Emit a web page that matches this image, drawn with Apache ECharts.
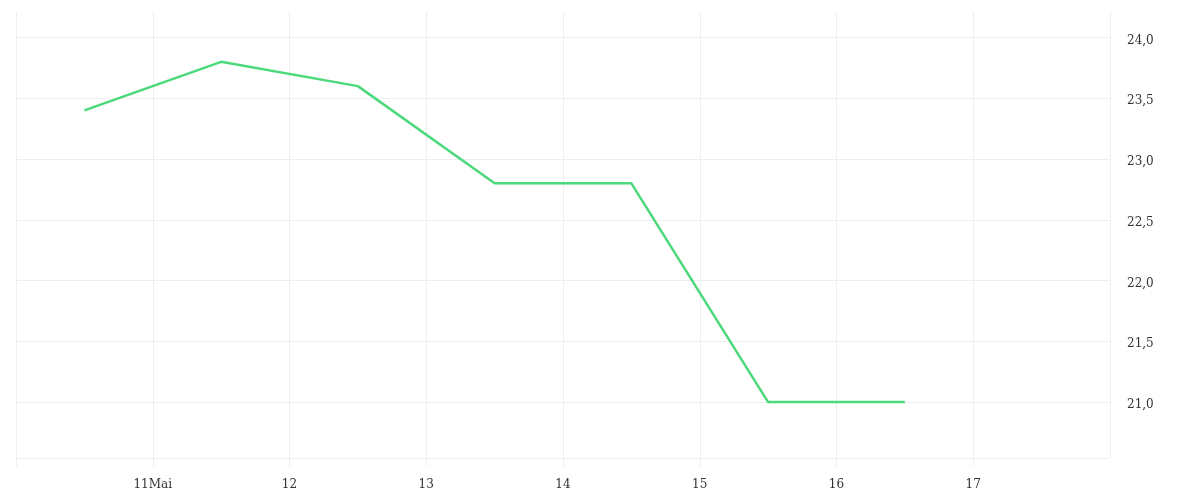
<!DOCTYPE html>
<html lang="de">
<head>
    <meta charset="UTF-8">
    <title>Chart</title>
    <style>
        *{
            margin: 0;
            padding: 0;
        }
        #chart{
            width: 1200px;
            height: 500px;
            background: #FFFFFF;
        }
    </style>
</head>
<body>
<div id="chart"></div>
</body>

<script src="https://cdn.jsdelivr.net/npm/echarts@6/dist/echarts.min.js"></script>
<script>
    // days (Mai), values are measured at noon
    const days = [10, 11, 12, 13, 14, 15, 16];
    const values = [23.4, 23.8, 23.6, 22.8, 22.8, 21.0, 21.0];
    const monthName = 'Mai';
    const firstLabelDay = 11;
    const hiddenDays = [10, 18];

    const DAY = 24 * 3600 * 1000;
    let seriesData = [];
    for(let i = 0;i<days.length;i++){
        seriesData.push([new Date(2024, 4, days[i], 12).getTime(), values[i]]);
    }

    let myChart = echarts.init(document.getElementById('chart'));
    myChart.setOption({
        animation: false,
        grid: {
            left: 16,
            right: 90,
            top: 12,
            bottom: 42
        },
        xAxis: {
            type: 'time',
            min: new Date(2024, 4, 10).getTime(),
            max: new Date(2024, 4, 18).getTime(),
            minInterval: DAY,
            maxInterval: DAY,
            axisLine: {
                show: true,
                lineStyle: {color: '#eeeeee', width: 1}
            },
            axisTick: {
                show: true,
                length: 8,
                lineStyle: {color: '#eeeeee', width: 1}
            },
            splitLine: {
                show: true,
                lineStyle: {color: '#eeeeee', width: 1}
            },
            axisLabel: {
                margin: 21,
                color: '#333',
                fontFamily: 'DejaVu Serif',
                fontSize: 12,
                formatter: function(val){
                    let d = new Date(val).getDate();
                    if(hiddenDays.indexOf(d) >= 0) return '';
                    // first label carries the month name
                    return d + (d === firstLabelDay ? monthName : '');
                }
            }
        },
        yAxis: {
            type: 'value',
            position: 'right',
            min: 20.54,
            max: 24.21,
            splitNumber: 7,
            axisLine: {show: false},
            axisTick: {show: false},
            splitLine: {
                show: true,
                showMaxLine: false,
                lineStyle: {color: '#eeeeee', width: 1}
            },
            axisLabel: {
                showMinLabel: false,
                showMaxLabel: false,
                margin: 17,
                color: '#333',
                fontFamily: 'DejaVu Serif',
                fontSize: 12,
                formatter: function(v){
                    return '{t|' + v.toFixed(1).replace('.', ',') + '}';
                },
                rich: {
                    t: {
                        color: '#333',
                        fontFamily: 'DejaVu Serif',
                        fontSize: 12,
                        padding: [6, 0, 0, 0]
                    }
                }
            }
        },
        series: [{
            type: 'line',
            data: seriesData,
            showSymbol: false,
            symbol: 'none',
            lineStyle: {
                color: '#4cd97b',
                width: 2.5
            }
        }]
    });
</script>
</html>
